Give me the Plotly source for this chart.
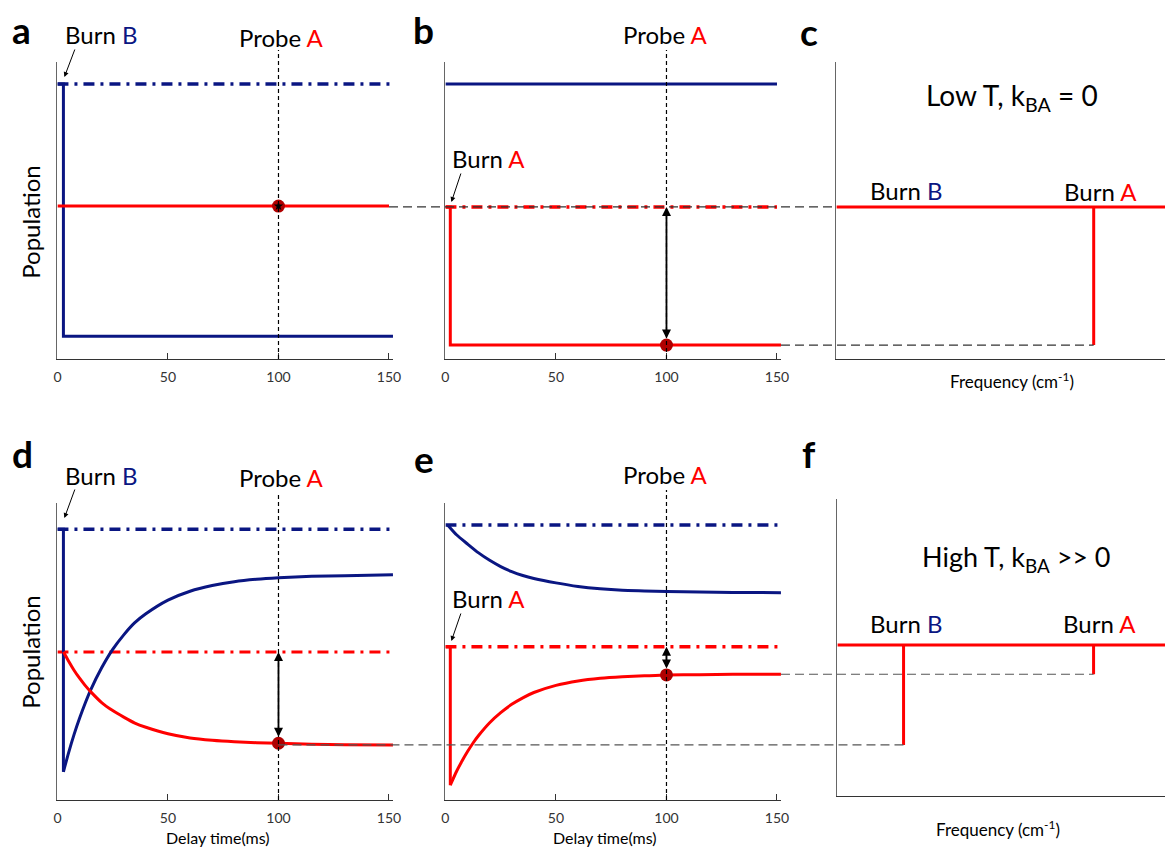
import plotly.graph_objects as go

W, H = 1173, 848
NAVY = '#0a1682'
RED = '#ff0000'
DARKRED = '#b00000'
FONT = 'Lato'

# ---------------- data ----------------
delay_ticks = [0, 50, 100, 150]
probe_t = 100

# panel a (low T, burn B, probe A)
a_ref_t = [0, 151.8]
a_blue_ref = [0.926, 0.926]
a_blue_t = [0, 2.7, 2.7, 152.6]
a_blue = [0.926, 0.926, 0.077, 0.077]
a_red_t = [0, 150]
a_red = [0.515, 0.515]
a_probe = 0.515

# panel b (low T, burn A, probe A)
b_blue_t = [0, 150]
b_blue = [0.926, 0.926]
b_red_ref_t = [0, 150]
b_red_ref = [0.512, 0.512]
b_red_t = [0, 2.2, 2.2, 152]
b_red = [0.512, 0.512, 0.047, 0.047]
b_probe = 0.047

# panel c (low T spectrum)
c_freq = [0, 78.3, 78.3, 78.3, 100]
c_signal = [0.512, 0.512, 0.047, 0.512, 0.512]

# panel d (high T, burn B, probe A)
d_ref_t = [0, 151.8]
d_blue_ref = [0.912, 0.912]
d_red_ref = [0.498, 0.498]
d_blue_drop_t = [0, 2.7, 2.7]
d_blue_drop = [0.912, 0.912, 0.095]
d_blue_t = [2.7, 5, 7.5, 10, 12.5, 15, 20, 25, 30, 35, 40, 50, 60, 70, 80, 90, 100, 115, 130, 151.8]
d_blue = [0.095, 0.158, 0.220, 0.275, 0.325, 0.370, 0.445, 0.507, 0.556, 0.597, 0.627, 0.673,
          0.703, 0.722, 0.735, 0.743, 0.748, 0.753, 0.755, 0.758]
d_red_t = [2.7, 5, 7.5, 10, 12.5, 15, 20, 25, 30, 35, 40, 50, 60, 70, 80, 90, 100, 115, 130, 151.8]
d_red = [0.499, 0.468, 0.437, 0.410, 0.386, 0.365, 0.328, 0.301, 0.279, 0.259, 0.245, 0.223,
         0.209, 0.201, 0.196, 0.193, 0.191, 0.188, 0.186, 0.185]
d_probe = 0.191

# panel e (high T, burn A, probe A)
e_ref_t = [0, 151.8]
e_blue_ref = [0.926, 0.926]
e_red_ref = [0.516, 0.516]
e_blue_t = [1, 5, 10, 15, 20, 25, 30, 35, 40, 50, 60, 70, 80, 90, 100, 115, 130, 151.8]
e_blue = [0.926, 0.893, 0.862, 0.832, 0.807, 0.786, 0.769, 0.756, 0.746, 0.731, 0.719, 0.711,
          0.706, 0.704, 0.702, 0.700, 0.699, 0.698]
e_red_drop_t = [0, 2.2, 2.2]
e_red_drop = [0.516, 0.516, 0.050]
e_red_t = [2.2, 5, 7.5, 10, 12.5, 15, 20, 25, 30, 35, 40, 50, 60, 70, 80, 90, 100, 115, 130, 151.8]
e_red = [0.050, 0.096, 0.131, 0.163, 0.192, 0.217, 0.260, 0.294, 0.322, 0.344, 0.362, 0.386,
         0.401, 0.410, 0.415, 0.418, 0.421, 0.422, 0.423, 0.423]
e_probe = 0.421

# panel f (high T spectrum)
f_freq = [0, 20.2, 20.2, 20.2, 78.2, 78.2, 78.2, 100]
f_signal = [0.508, 0.508, 0.172, 0.508, 0.508, 0.410, 0.508, 0.508]

# ---------------- layout geometry ----------------
def px(x):
    return x / W

def py(y):
    return 1 - y / H

XD = {1: [px(54), px(393)], 2: [px(446), px(785)], 3: [px(841), 1.0],
      4: [px(54), px(393)], 5: [px(446), px(785)], 6: [px(842), 1.0]}
YD = {1: [py(359), py(62)], 2: [py(359), py(62)], 3: [py(359), py(62)],
      4: [py(800), py(503)], 5: [py(800), py(503)], 6: [py(796), py(499)]}
XR = {1: [0, 151.8], 2: [0, 151.8], 3: [0, 100], 4: [0, 151.8], 5: [0, 151.8], 6: [0, 100]}


def to_paper_x(i, v):
    d, r = XD[i], XR[i]
    return d[0] + (v - r[0]) / (r[1] - r[0]) * (d[1] - d[0])


fig = go.Figure()


def add(i, x, y, color, width=3, dash='solid', shape='linear'):
    ax = '' if i == 1 else str(i)
    fig.add_trace(go.Scatter(x=x, y=y, xaxis='x' + ax, yaxis='y' + ax, mode='lines',
                             line=dict(color=color, width=width, dash=dash, shape=shape, smoothing=0.6),
                             hoverinfo='skip'))


def marker(i, x, y, star=False):
    ax = '' if i == 1 else str(i)
    fig.add_trace(go.Scatter(x=[x], y=[y], xaxis='x' + ax, yaxis='y' + ax, mode='markers',
                             marker=dict(size=13, color=DARKRED), hoverinfo='skip'))
    if star:
        fig.add_trace(go.Scatter(x=[x], y=[y], xaxis='x' + ax, yaxis='y' + ax, mode='markers',
                                 marker=dict(size=7, color='black', symbol='star'), hoverinfo='skip'))


DD = '11px,6px,3px,6px'

# panel a
add(1, a_ref_t, a_blue_ref, NAVY, 3.5, DD)
add(1, a_blue_t, a_blue, NAVY, 3)
add(1, a_red_t, a_red, RED, 3)
marker(1, probe_t, a_probe, star=True)

# panel b
add(2, b_blue_t, b_blue, NAVY, 3)
add(2, b_red_ref_t, b_red_ref, RED, 3.5, DD)
add(2, b_red_t, b_red, RED, 3)
marker(2, probe_t, b_probe)

# panel c
add(3, c_freq, c_signal, RED, 3)

# panel d
add(4, d_ref_t, d_blue_ref, NAVY, 3.5, DD)
add(4, d_ref_t, d_red_ref, RED, 3, DD)
add(4, d_blue_drop_t, d_blue_drop, NAVY, 3)
add(4, d_blue_t, d_blue, NAVY, 3, shape='spline')
add(4, d_red_t, d_red, RED, 3, shape='spline')
marker(4, probe_t, d_probe)

# panel e
add(5, e_ref_t, e_blue_ref, NAVY, 3.5, DD)
add(5, e_ref_t, e_red_ref, RED, 3.5, DD)
add(5, e_blue_t, e_blue, NAVY, 3, shape='spline')
add(5, e_red_drop_t, e_red_drop, RED, 3)
add(5, e_red_t, e_red, RED, 3, shape='spline')
marker(5, probe_t, e_probe)

# panel f
add(6, f_freq, f_signal, RED, 3)

# ---------------- axes ----------------
layout = dict(width=W, height=H, margin=dict(l=0, r=0, t=0, b=0),
              paper_bgcolor='white', plot_bgcolor='white', showlegend=False,
              font=dict(family=FONT, color='black'))
for i in range(1, 7):
    s = '' if i == 1 else str(i)
    time_axis = i in (1, 2, 4, 5)
    layout['xaxis' + s] = dict(domain=XD[i], range=XR[i], anchor='y' + s, showline=True,
                               linecolor='#333', linewidth=1, showgrid=False, zeroline=False,
                               ticks='inside' if time_axis else '', ticklen=6, tickcolor='#333',
                               tickvals=delay_ticks if time_axis else [],
                               showticklabels=time_axis, ticklabelstandoff=5,
                               tickfont=dict(size=14, color='#333', family=FONT), fixedrange=True)
    layout['yaxis' + s] = dict(domain=YD[i], range=[0, 1], anchor='x' + s, showline=True,
                               linecolor='#666', linewidth=1, showgrid=False, zeroline=False,
                               ticks='', showticklabels=False, fixedrange=True)

# ---------------- shapes ----------------
shapes = []
# probe lines
for i, top in ((1, 50), (2, 50), (4, 493), (5, 490)):
    s = '' if i == 1 else str(i)
    shapes.append(dict(type='line', xref='x' + s, yref='paper', x0=probe_t, x1=probe_t,
                       y0=YD[i][0], y1=py(top), line=dict(color='black', width=1.2, dash='4px,3px')))

CON = dict(width=1.2, dash='9px,5px')
shapes.append(dict(type='line', xref='paper', yref='y3', x0=to_paper_x(1, 150), x1=to_paper_x(3, 0),
                   y0=c_signal[0], y1=c_signal[0], line=dict(color='#333', **CON)))
shapes.append(dict(type='line', xref='paper', yref='y3', x0=to_paper_x(2, 151.8), x1=to_paper_x(3, c_freq[2]),
                   y0=c_signal[2], y1=c_signal[2], line=dict(color='#333', **CON)))
shapes.append(dict(type='line', xref='paper', yref='y6', x0=to_paper_x(4, probe_t), x1=to_paper_x(6, f_freq[2]),
                   y0=f_signal[2], y1=f_signal[2], line=dict(color='#555', **CON)))
shapes.append(dict(type='line', xref='paper', yref='y6', x0=to_paper_x(5, 151.8), x1=to_paper_x(6, f_freq[5]),
                   y0=f_signal[5], y1=f_signal[5], line=dict(color='#555', **CON)))
layout['shapes'] = shapes

# ---------------- annotations ----------------
ann = []
B = "<span style='color:%s'>B</span>" % NAVY
A = "<span style='color:%s'>A</span>" % RED


def text(x, y, t, size=24, bold=False, xanchor='center'):
    ann.append(dict(xref='paper', yref='paper', x=px(x), y=py(y), text=('<b>%s</b>' % t) if bold else t,
                    showarrow=False, xanchor=xanchor, yanchor='middle',
                    font=dict(size=size, family=FONT, color='black')))


def arrow(hx, hy, tx, ty):
    ann.append(dict(xref='paper', yref='paper', x=px(hx), y=py(hy), ax=tx - hx, ay=ty - hy,
                    text='', showarrow=True, arrowhead=2, arrowsize=1, arrowwidth=1, arrowcolor='black'))


# panel labels
for lab, x, y in (('a', 18, 30), ('b', 424, 29), ('c', 813, 31), ('d', 19, 454), ('e', 424, 458), ('f', 813, 454)):
    text(x, y, lab, size=37, bold=True)

text(98, 35, 'Burn ' + B)
arrow(61, 77, 72, 48)
text(280, 38, 'Probe ' + A)
text(668, 35, 'Probe ' + A)
text(490, 158, 'Burn ' + A)
arrow(452, 202, 462, 172)
text(1018, 97, 'Low T, k<sub>BA</sub> = 0', size=28)
text(911, 190, 'Burn ' + B)
text(1108, 191, 'Burn ' + A)
text(1018, 380, 'Frequency (cm<sup>-1</sup>)', size=17)

text(98, 475, 'Burn ' + B)
arrow(61, 518, 72, 488)
text(280, 478, 'Probe ' + A)
text(668, 474, 'Probe ' + A)
text(490, 598, 'Burn ' + A)
arrow(452, 641, 462, 612)
text(1023, 558, 'High T, k<sub>BA</sub> >> 0', size=27)
text(911, 623, 'Burn ' + B)
text(1107, 623, 'Burn ' + A)
text(1004, 828, 'Frequency (cm<sup>-1</sup>)', size=17)
text(216, 837, 'Delay time(ms)', size=16)
text(607, 837, 'Delay time(ms)', size=16)

for yc in (222, 652):
    ann.append(dict(xref='paper', yref='paper', x=px(26), y=py(yc), text='Population', textangle=-90,
                    showarrow=False, xanchor='center', yanchor='middle',
                    font=dict(size=24, family=FONT, color='black')))

# double-headed probe arrows
for i, top, bot in ((2, b_red_ref[0], b_probe), (4, d_red_ref[0], d_probe), (5, e_red_ref[0], e_probe)):
    s = str(i)
    ann.append(dict(xref='x' + s, yref='y' + s, x=probe_t, y=top, axref='x' + s, ayref='y' + s,
                    ax=probe_t, ay=bot, text='', showarrow=True, arrowside='end+start',
                    arrowhead=2, startarrowhead=2, arrowsize=1, startarrowsize=1, arrowwidth=1.8,
                    arrowcolor='black', startstandoff=5))
layout['annotations'] = ann

fig.update_layout(**layout)
fig.write_html('out.html')
